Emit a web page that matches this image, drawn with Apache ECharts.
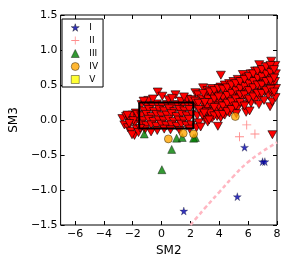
<!DOCTYPE html>
<html><head><meta charset="utf-8">
<script src="https://cdn.jsdelivr.net/npm/echarts@6/dist/echarts.min.js"></script>
<style>html,body{margin:0;padding:0;background:#fff}#c{width:288px;height:266px}</style>
</head><body><div id="c"></div>
<script>
const xTicks = [-6, -4, -2, 0, 2, 4, 6, 8];
const yTicks = [-1.5, -1.0, -0.5, 0.0, 0.5, 1.0, 1.5];
const legendNames = ['I', 'II', 'III', 'IV', 'V'];
const groupI = [[1.54,-1.3],[5.75,-0.39],[5.25,-1.095],[7.0,-0.595],[7.16,-0.595]];
const groupII = [[5.9,-0.07],[5.4,-0.24],[6.47,-0.2]];
const groupIII = [[0.02,-0.71],[0.7,-0.42],[1.04,-0.26],[1.43,-0.25],[2.34,-0.25],[-1.2,-0.2],[2.22,-0.26]];
const groupIV = [[0.47,-0.27],[1.5,-0.19],[2.22,-0.2],[5.11,0.05]];
const groupV = [];
const cloud = [
[-2.72,0.02],[-2.58,-0.07],[-2.46,0.05],[-2.33,-0.11],[-2.21,0.0],[-2.12,-0.16],[-2.02,0.07],[-1.88,-0.22],[-1.86,-0.04],[-1.79,0.1],[-1.73,-0.13],[-1.64,0.02],[-2.05,-0.21],[-1.6,-0.18],[-1.96,-0.01],[-2.37,0.07],[-1.69,0.08],[-2.25,-0.05],
[-1.38,0.22],[-1.02,0.2],[-0.66,0.21],[-0.33,0.23],[0.03,0.2],[0.37,0.22],[0.72,0.19],[1.08,0.22],[1.42,0.2],[1.77,0.23],[2.08,0.21],
[-1.22,0.13],[-0.88,0.15],[-0.53,0.12],[-0.18,0.15],[0.16,0.13],[0.52,0.16],[0.87,0.12],[1.23,0.15],[1.57,0.13],[1.92,0.15],
[-1.41,0.06],[-1.06,0.08],[-0.71,0.05],[-0.36,0.08],[-0.02,0.06],[0.34,0.07],[0.69,0.09],[1.03,0.05],[1.39,0.08],[1.74,0.06],[2.11,0.08],
[-1.27,-0.01],[-0.91,0.01],[-0.57,-0.02],[-0.22,0.0],[0.13,-0.01],[0.48,0.01],[0.83,-0.02],[1.18,0.0],[1.53,-0.01],[1.88,0.01],
[-1.43,-0.06],[-1.07,-0.08],[-0.72,-0.07],[-0.37,-0.09],[-0.03,-0.06],[0.32,-0.08],[0.68,-0.07],[1.04,-0.09],[1.37,-0.06],[1.72,-0.08],[2.06,-0.07],
[-1.15,-0.14],[-0.73,-0.17],[-0.3,-0.15],[0.18,-0.13],[0.62,-0.14],[1.25,-0.15],[1.95,-0.13],[-1.48,-0.12],
[-0.27,0.4],[0.05,0.34],[0.96,0.36],[1.77,0.3],[2.34,0.39],[2.52,0.36],[-0.92,0.28],[0.48,0.29],[1.33,0.27],[-1.25,0.27],[-0.6,0.3],[0.72,0.31],[1.55,0.33],[2.05,0.29],
[2.38,0.2],[2.47,0.06],[2.58,-0.04],[2.68,0.13],[2.78,0.3],[2.88,0.46],[2.42,-0.11],[2.71,-0.1],[2.33,0.27],[2.91,0.21],[3.0,0.01],[3.08,0.35],[2.55,0.24],[2.82,0.07],
[3.18,0.42],[3.22,0.3],[3.15,0.18],[3.24,0.08],[3.2,-0.03],
[3.48,0.45],[3.53,0.34],[3.46,0.22],[3.55,0.12],[3.5,0.02],
[3.78,0.38],[3.83,0.27],[3.76,0.15],[3.85,0.05],[3.9,-0.09],
[4.11,0.64],[4.08,0.47],[4.14,0.35],[4.05,0.24],[4.16,0.13],[4.1,0.03],
[4.38,0.5],[4.43,0.4],[4.36,0.28],[4.45,0.17],[4.38,0.07],
[4.68,0.52],[4.73,0.43],[4.66,0.31],[4.75,0.2],[4.7,0.1],
[4.98,0.55],[5.03,0.45],[4.96,0.36],[5.05,0.25],[5.07,0.14],
[5.28,0.58],[5.33,0.48],[5.26,0.38],[5.35,0.29],[5.3,0.18],[5.18,0.09],
[5.63,0.65],[5.58,0.55],[5.62,0.44],[5.55,0.33],[5.65,0.22],
[5.88,0.6],[5.93,0.5],[5.86,0.4],[5.95,0.3],[5.86,0.11],
[6.18,0.66],[6.23,0.57],[6.16,0.46],[6.25,0.36],[6.2,0.24],[6.1,0.13],
[6.48,0.7],[6.53,0.6],[6.46,0.5],[6.55,0.4],[6.5,0.28],
[6.77,0.79],[6.83,0.66],[6.76,0.55],[6.85,0.45],[6.8,0.33],[6.75,0.22],
[7.08,0.72],[7.13,0.62],[7.06,0.52],[7.15,0.4],[7.1,0.28],
[7.38,0.76],[7.43,0.65],[7.36,0.55],[7.45,0.45],[7.4,0.35],[7.52,0.19],
[7.6,0.84],[7.66,0.72],[7.63,0.6],[7.68,0.5],[7.62,0.38],[7.67,0.26],[7.68,-0.21],
[7.88,0.78],[7.92,0.66],[7.86,0.55],[7.93,0.45],[7.9,0.32],
[3.35,0.25],[3.65,0.3],[3.95,0.2],[4.25,0.32],[4.55,0.35],[4.85,0.38],[5.15,0.42],[5.45,0.45],[5.75,0.48],[6.05,0.52],[6.35,0.55],[6.65,0.6],[6.95,0.62],[7.25,0.66],[7.55,0.68],[2.9,0.38],[3.1,0.12],
[3.35,0.4],[3.35,0.1],[3.65,0.42],[3.65,0.18],[3.65,0.06],[3.95,0.45],[3.95,0.33],[3.95,0.08],[4.25,0.44],[4.25,0.2],[4.25,0.08],[4.55,0.46],[4.55,0.24],[4.55,0.12],[4.85,0.5],[4.85,0.26],[4.85,0.15],[5.15,0.52],[5.15,0.3],[5.15,0.2],[5.45,0.55],[5.45,0.36],[5.45,0.25],[5.75,0.58],[5.75,0.36],[5.75,0.2],[6.05,0.62],[6.05,0.42],[6.05,0.3],[6.35,0.66],[6.35,0.46],[6.35,0.33],[6.65,0.7],[6.65,0.5],[6.65,0.38],[6.95,0.72],[6.95,0.5],[6.95,0.38],[7.25,0.76],[7.25,0.55],[7.25,0.42],[7.55,0.78],[7.55,0.56],[7.55,0.44],[7.8,0.72],[7.8,0.6],[7.8,0.4],
[2.6,0.15],[3.0,0.25],[2.95,0.1],[3.3,0.0]
];
const curveX = [2.0, 2.5, 3.0, 4.0, 5.0, 6.0, 7.0, 8.0];
const curveY = [-1.5, -1.38, -1.26, -1.03, -0.8, -0.6, -0.45, -0.32];
const boxX = [-1.55, 2.2, 2.2, -1.55, -1.55];
const boxY = [0.25, 0.25, -0.12, -0.12, 0.25];

const STAR = 'path://M50,0 L61,35 L98,35 L68,57 L79,91 L50,70 L21,91 L32,57 L2,35 L39,35 Z';
const PLUS = 'path://M4.5,0 H5.5 V4.5 H10 V5.5 H5.5 V10 H4.5 V5.5 H0 V4.5 H4.5 Z';
const minus = s => String(s).replace('-', '\u2212');
const font = 'DejaVu Sans';

const chart = echarts.init(document.getElementById('c'), null, {renderer: 'canvas'});
const tickStyle = {show: true, inside: true, length: 4, lineStyle: {color: '#000', width: 1}};
const noLine = {show: false, onZero: false};
chart.setOption({
  animation: false,
  textStyle: {fontFamily: font},
  grid: {left: 58, right: 11, top: 15, bottom: 41, show: true, borderColor: '#000', borderWidth: 1, backgroundColor: 'transparent'},
  legend: {
    data: legendNames.map(n => n === 'II' ? {name: n, itemStyle: {borderWidth: 0}} : n),
    orient: 'vertical', left: 62, top: 19,
    padding: [4, 5, 3, 9], itemGap: 4, itemWidth: 8, itemHeight: 8,
    itemStyle: {borderWidth: 0.5, borderColor: '#000'},
    borderColor: '#000', borderWidth: 1, backgroundColor: '#fff',
    textStyle: {fontFamily: font, fontSize: 9, lineHeight: 9, color: '#000', padding: [0,0,0,5]},
    selectedMode: false
  },
  xAxis: [{
    type: 'value', min: -7, max: 8, position: 'bottom',
    name: 'SM2', nameLocation: 'middle', nameGap: 17,
    nameTextStyle: {fontFamily: font, fontSize: 12, color: '#000'},
    axisLine: noLine, splitLine: {show: false},
    axisTick: Object.assign({customValues: xTicks}, tickStyle),
    axisLabel: {customValues: xTicks, formatter: v => minus(v), fontFamily: font, fontSize: 11, color: '#000', margin: 4}
  }, {
    type: 'value', min: -7, max: 8, position: 'top',
    axisLine: noLine, splitLine: {show: false},
    axisTick: Object.assign({customValues: xTicks}, tickStyle),
    axisLabel: {show: false, customValues: xTicks}
  }],
  yAxis: [{
    type: 'value', min: -1.5, max: 1.5, interval: 0.5, position: 'left',
    name: 'SM3', nameLocation: 'middle', nameGap: 38, nameRotate: 90,
    nameTextStyle: {fontFamily: font, fontSize: 12, color: '#000'},
    axisLine: noLine, splitLine: {show: false},
    axisTick: tickStyle,
    axisLabel: {formatter: v => minus(v.toFixed(1)), fontFamily: font, fontSize: 11, color: '#000', margin: 3}
  }, {
    type: 'value', min: -1.5, max: 1.5, interval: 0.5, position: 'right',
    axisLine: noLine, splitLine: {show: false},
    axisTick: tickStyle, axisLabel: {show: false}
  }],
  series: [
    {type: 'line', data: curveX.map((x, i) => [x, curveY[i]]), smooth: true, symbol: 'none',
     lineStyle: {color: '#ffb6c1', width: 2.5, type: [4, 3]}, clip: true, z: 1, silent: true},
    {type: 'scatter', name: 'cloud', data: cloud, symbol: 'triangle', symbolRotate: 180, symbolSize: [9, 8],
     itemStyle: {color: '#ff0000', borderColor: '#000', borderWidth: 0.6, opacity: 1}, z: 2, large: false},
    {type: 'line', data: boxX.map((x, i) => [x, boxY[i]]), symbol: 'none',
     lineStyle: {color: '#000', width: 2}, z: 3, silent: true},
    {type: 'scatter', name: 'I', data: groupI, symbol: STAR, symbolSize: 8,
     itemStyle: {color: '#0000aa', borderColor: '#000', borderWidth: 0.3}, z: 4},
    {type: 'scatter', name: 'II', data: groupII, symbol: PLUS, symbolSize: 9,
     itemStyle: {color: '#ff7070', borderWidth: 0}, z: 4},
    {type: 'scatter', name: 'III', data: groupIII, symbol: 'triangle', symbolSize: [8, 8],
     itemStyle: {color: '#008000', borderColor: '#000', borderWidth: 0.5}, z: 4},
    {type: 'scatter', name: 'IV', data: groupIV, symbol: 'circle', symbolSize: 8,
     itemStyle: {color: '#ffa500', borderColor: '#000', borderWidth: 0.5}, z: 4},
    {type: 'scatter', name: 'V', data: groupV, symbol: 'rect', symbolSize: 8,
     itemStyle: {color: '#ffff00', borderColor: '#000', borderWidth: 0.5}, z: 4}
  ]
});
</script></body></html>
